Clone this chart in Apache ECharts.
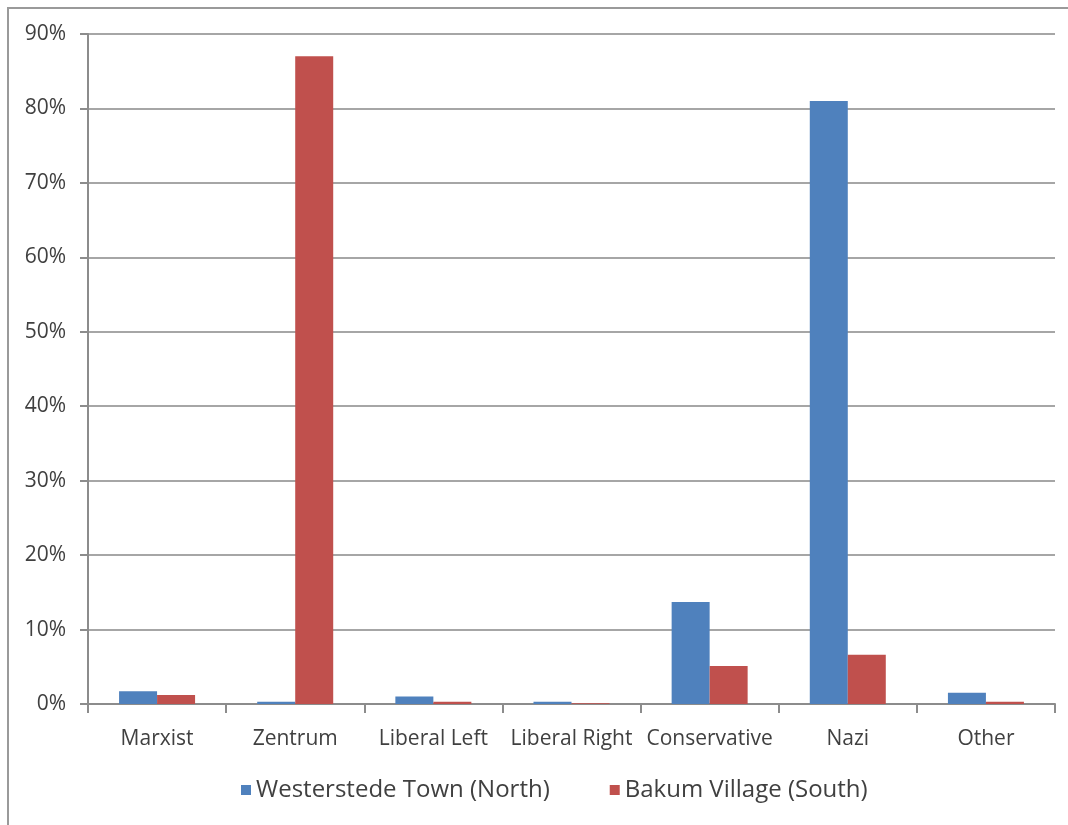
<!DOCTYPE html>
<html>
<head>
<meta charset="utf-8">
<script src="https://cdn.jsdelivr.net/npm/echarts@6/dist/echarts.min.js"></script>
<style>
html,body{margin:0;padding:0;background:#fff;}
#c{width:1068px;height:825px;}
</style>
</head>
<body>
<div id="c"></div>
<script>
const categories = ['Marxist','Zentrum','Liberal Left','Liberal Right','Conservative','Nazi','Other'];
const westerstede = [1.7, 0.3, 1.0, 0.3, 13.7, 81.0, 1.5];
const bakum = [1.2, 87.0, 0.3, 0.1, 5.1, 6.6, 0.3];
const seriesNames = ['Westerstede Town (North)', 'Bakum Village (South)'];

const chart = echarts.init(document.getElementById('c'));
const font = 'Open Sans';
chart.setOption({
  animation: false,
  backgroundColor: '#fff',
  graphic: [{
    type: 'polyline',
    shape: {points: [[8, 825], [8, 8], [1068, 8]]},
    style: {stroke: '#9a9a9a', lineWidth: 2, fill: null}
  }],
  grid: {left: 88, right: 13, top: 34, bottom: 121},
  legend: {
    bottom: 18,
    left: 236,
    itemWidth: 10,
    itemHeight: 10,
    itemGap: 60,
    icon: 'rect',
    textStyle: {fontFamily: font, fontSize: 24, color: '#404040'},
    data: seriesNames
  },
  xAxis: {
    type: 'category',
    data: categories,
    axisLine: {lineStyle: {color: '#8c8c8c', width: 2}},
    axisTick: {show: true, length: 9, lineStyle: {color: '#8c8c8c', width: 2}},
    axisLabel: {fontFamily: font, fontSize: 21, color: '#404040', margin: 25, interval: 0}
  },
  yAxis: {
    type: 'value',
    min: 0, max: 90, interval: 10,
    axisLine: {show: true, lineStyle: {color: '#8c8c8c', width: 2}},
    axisTick: {show: true, length: 8, lineStyle: {color: '#8c8c8c', width: 2}},
    splitLine: {lineStyle: {color: '#a6a6a6', width: 2}},
    axisLabel: {fontFamily: font, fontSize: 21, color: '#404040', margin: 22, formatter: '{value}%'}
  },
  series: [
    {name: seriesNames[0], type: 'bar', data: westerstede, barWidth: 38, barGap: '0%',
     itemStyle: {color: '#4f81bd'}},
    {name: seriesNames[1], type: 'bar', data: bakum, barWidth: 38, barGap: '0%',
     itemStyle: {color: '#c0504d'}}
  ]
});
</script>
</body>
</html>
